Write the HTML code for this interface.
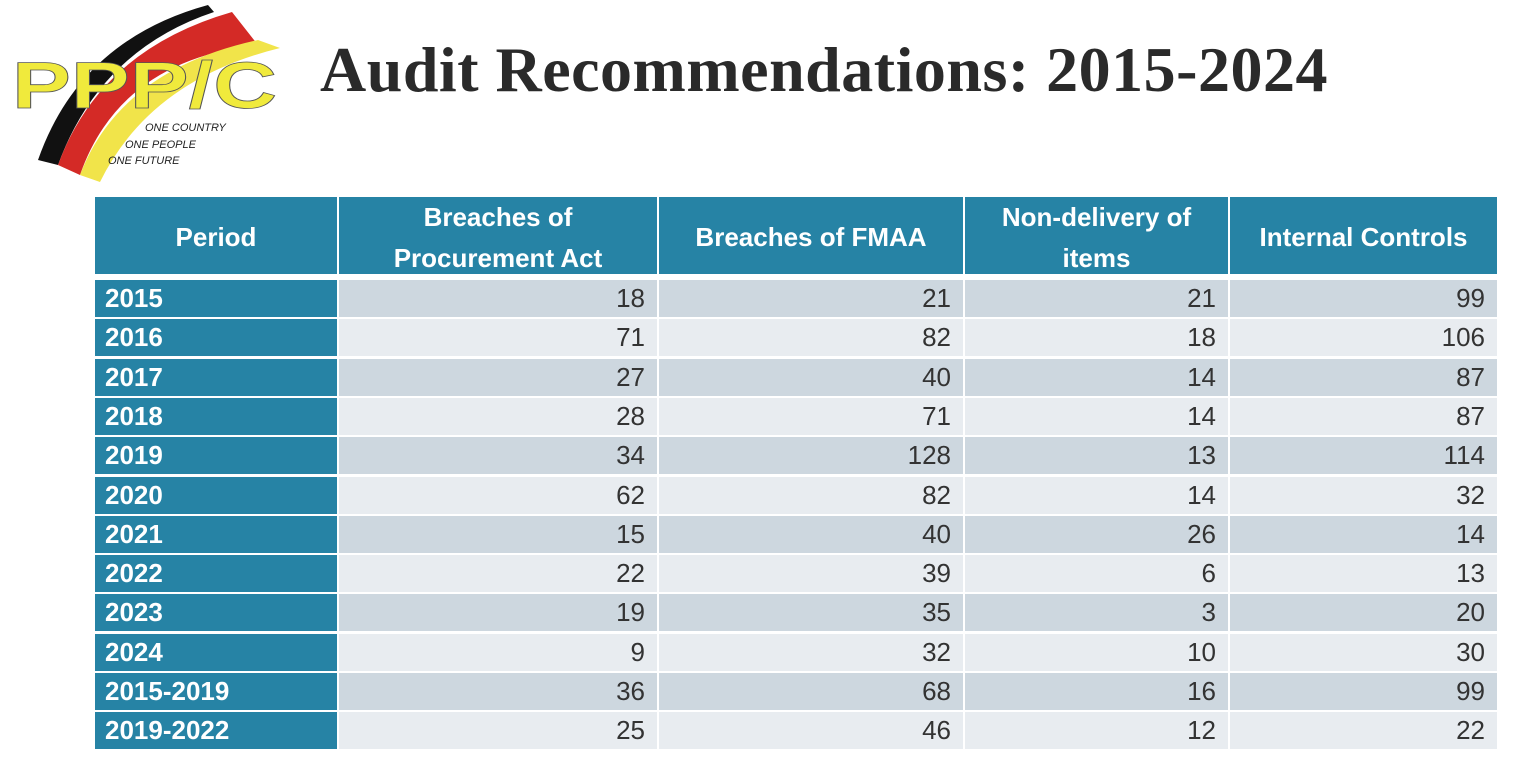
<!DOCTYPE html>
<html><head><style>
body{margin:0;width:1525px;height:783px;background:#fff;position:relative;overflow:hidden;font-family:"Liberation Sans",sans-serif}
.t{position:absolute;left:320px;top:33px;font-family:"Liberation Serif",serif;font-weight:bold;font-size:64px;color:#2a2a2a;white-space:nowrap;letter-spacing:0.5px}
.c{position:absolute;box-sizing:border-box;display:flex;align-items:center}
.h{background:#2683a5;color:#fff;font-weight:bold;font-size:26px;justify-content:center;text-align:center;line-height:41px}
.p{background:#2683a5;color:#fff;font-weight:bold;font-size:26px;padding-left:10px}
.n{font-size:26px;color:#333;justify-content:flex-end;padding-right:12px}
.o{background:#cdd7df}.e{background:#e8ecf0}
</style></head><body>
<svg style="position:absolute;left:0;top:0" width="300" height="190" viewBox="0 0 300 190">
<path d="M38 160 Q80 40 208 5 L214 12 Q100 50 58 165 Z" fill="#111"/>
<path d="M58 165 Q100 50 232 12 L258 45 Q120 60 80 175 Z" fill="#d42a26"/>
<path d="M80 175 Q120 70 258 40 L280 48 Q150 80 100 182 Z" fill="#f1e44a"/>
<text x="12" y="108" font-family="Liberation Sans" font-weight="bold" font-size="66" fill="#f0ea3c" stroke="#555" stroke-width="0.8" textLength="265" lengthAdjust="spacingAndGlyphs">PPP/C</text>
<text x="145" y="131" font-family="Liberation Sans" font-style="italic" font-size="11" fill="#222">ONE COUNTRY</text>
<text x="125" y="148" font-family="Liberation Sans" font-style="italic" font-size="11" fill="#222">ONE PEOPLE</text>
<text x="108" y="164" font-family="Liberation Sans" font-style="italic" font-size="11" fill="#222">ONE FUTURE</text>
</svg>
<div class="t">Audit Recommendations: 2015-2024</div>
<div id="tb"></div>
<script>
const cols=[95,339,659,965,1230,1499];
const heads=["Period","Breaches of<br>Procurement Act","Breaches of FMAA","Non-delivery of<br>items","Internal Controls"];
const rows=[["2015",18,21,21,99],["2016",71,82,18,106],["2017",27,40,14,87],["2018",28,71,14,87],["2019",34,128,13,114],["2020",62,82,14,32],["2021",15,40,26,14],["2022",22,39,6,13],["2023",19,35,3,20],["2024",9,32,10,30],["2015-2019",36,68,16,99],["2019-2022",25,46,12,22]];
let h="";
for(let i=0;i<5;i++)h+=`<div class="c h" style="left:${cols[i]}px;top:197px;width:${cols[i+1]-cols[i]-2}px;height:77px;padding-top:4px">${heads[i]}</div>`;
rows.forEach((r,j)=>{const y=280+j*39.3;for(let i=0;i<5;i++){const cl=i==0?"p":"n "+(j%2?"e":"o");h+=`<div class="c ${cl}" style="left:${cols[i]}px;top:${y}px;width:${cols[i+1]-cols[i]-2}px;height:37px">${r[i]}</div>`}});
document.getElementById("tb").innerHTML=h;
</script>
</body></html>
